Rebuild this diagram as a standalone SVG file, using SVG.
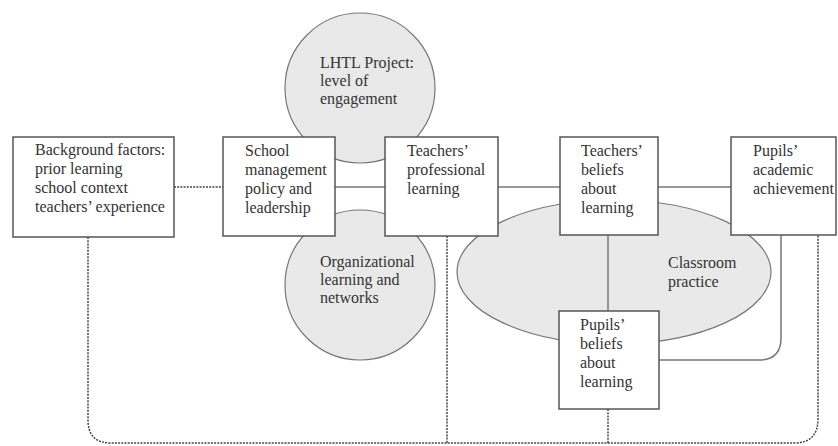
<svg xmlns="http://www.w3.org/2000/svg" width="838" height="446" viewBox="0 0 838 446">
<style>
text{font-family:"Liberation Serif","Times New Roman",serif;font-size:16px;fill:#333}
.box{fill:#fff;stroke:#555;stroke-width:1.5}
.blob{fill:#e9e9e9;stroke:#777;stroke-width:1.2}
.solid{fill:none;stroke:#777;stroke-width:1.5}
.dot{fill:none;stroke:#444;stroke-width:1.5;stroke-dasharray:2 1.2}
</style>
<rect width="838" height="446" fill="#fff"/>
<g id="lhtl-project">
<circle class="blob" cx="360" cy="88" r="75"/>
<text x="320" y="68">LHTL Project:</text>
<text x="320" y="86">level of</text>
<text x="320" y="104">engagement</text>
</g>
<g id="organizational-learning">
<circle class="blob" cx="360" cy="285" r="75"/>
<text x="320" y="267">Organizational</text>
<text x="320" y="285">learning and</text>
<text x="320" y="303">networks</text>
</g>
<g id="classroom-practice">
<ellipse class="blob" cx="614" cy="272" rx="157" ry="72"/>
<text x="668" y="268">Classroom</text>
<text x="668" y="287">practice</text>
</g>
<g id="connectors">
<line class="dot" x1="174" y1="187" x2="223" y2="187"/>
<line class="solid" x1="335" y1="187" x2="385" y2="187"/>
<line class="solid" x1="498" y1="187" x2="560" y2="187"/>
<line class="solid" x1="658" y1="187" x2="731" y2="187"/>
<line class="solid" x1="608" y1="235" x2="608" y2="311"/>
<path class="solid" d="M781 235 V338 Q781 360 759 360 H659"/>
<path class="dot" d="M88 237 V420 Q88 443 111 443 H794 Q818 443 818 419 V235"/>
<line class="dot" x1="447" y1="236" x2="447" y2="443"/>
<line class="dot" x1="608" y1="409" x2="608" y2="443"/>
</g>
<g id="background-factors">
<rect class="box" x="13" y="137" width="161" height="100"/>
<text x="35" y="155">Background factors:</text>
<text x="35" y="174">prior learning</text>
<text x="35" y="193">school context</text>
<text x="35" y="212">teachers’ experience</text>
</g>
<g id="school-management">
<rect class="box" x="223" y="137" width="112" height="99"/>
<text x="245" y="156">School</text>
<text x="245" y="175">management</text>
<text x="245" y="194">policy and</text>
<text x="245" y="213">leadership</text>
</g>
<g id="teachers-professional-learning">
<rect class="box" x="385" y="137" width="113" height="99"/>
<text x="407" y="156">Teachers’</text>
<text x="407" y="175">professional</text>
<text x="407" y="194">learning</text>
</g>
<g id="teachers-beliefs">
<rect class="box" x="560" y="137" width="98" height="98"/>
<text x="581" y="156">Teachers’</text>
<text x="581" y="175">beliefs</text>
<text x="581" y="194">about</text>
<text x="581" y="213">learning</text>
</g>
<g id="pupils-achievement">
<rect class="box" x="731" y="137" width="105" height="98"/>
<text x="753" y="156">Pupils’</text>
<text x="753" y="175">academic</text>
<text x="753" y="194">achievement</text>
</g>
<g id="pupils-beliefs">
<rect class="box" x="559" y="311" width="100" height="98"/>
<text x="580" y="330">Pupils’</text>
<text x="580" y="349">beliefs</text>
<text x="580" y="368">about</text>
<text x="580" y="387">learning</text>
</g>
</svg>
